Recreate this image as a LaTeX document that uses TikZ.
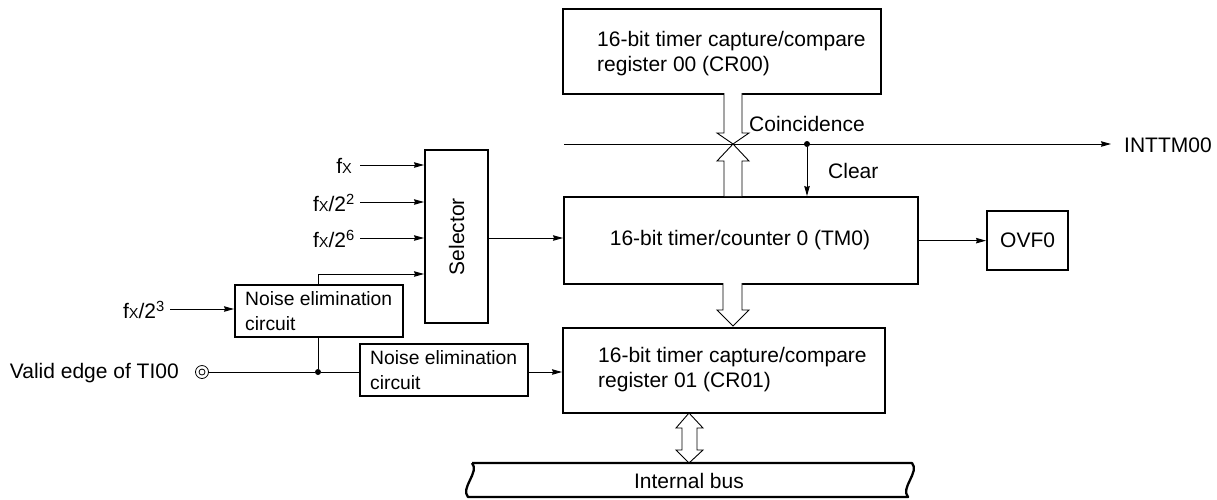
\documentclass[tikz,border=0pt]{standalone}
\usepackage{fontspec}
\setmainfont{Liberation Sans}
\usetikzlibrary{arrows.meta,calc}
\newcommand{\fX}{f{\fontsize{14.5}{14.5}\selectfont X}}
\begin{document}
\begin{tikzpicture}[x=1pt,y=-1pt,
  blk/.style={draw, line width=2.3pt, fill=white, inner sep=0pt, anchor=north west},
  txt/.style={inner sep=0pt, font=\fontsize{21}{25}\selectfont, align=left},
  ntxt/.style={inner sep=0pt, font=\fontsize{19.3}{25}\selectfont, align=left},
  con/.style={line width=0.9pt},
  arr/.style={con, -{Stealth[length=10pt,width=5.5pt,inset=1pt]}},
  barrow/.style={line width=0.9pt, fill=white},
  dot/.style={circle, fill=black, inner sep=0pt, minimum size=6pt}
]
\useasboundingbox (0,0) rectangle (1217,499);

% boxes
\node[blk, minimum width=318pt, minimum height=85pt] (cr00) at (562,8) {};
\node[txt, anchor=west] (cr00t) at (597,54) {16-bit timer capture/compare\\register 00 (CR00)};

\node[blk, minimum width=354pt, minimum height=87pt] (tm0) at (563,196) {};
\node[txt] (tm0t) at (740,240) {16-bit timer/counter 0 (TM0)};

\node[blk, minimum width=322pt, minimum height=85pt] (cr01) at (562,327) {};
\node[txt, anchor=west] (cr01t) at (598,370) {16-bit timer capture/compare\\register 01 (CR01)};

\node[blk, minimum width=81pt, minimum height=59pt] (ovf) at (986,210) {};
\node[txt] (ovft) at (ovf.center) {OVF0};

\node[blk, minimum width=63pt, minimum height=173pt] (sel) at (424,149) {};
\node[txt, rotate=90] (selt) at (sel.center) {Selector};

\node[blk, minimum width=168pt, minimum height=52pt] (ne1) at (234,284) {};
\node[ntxt, anchor=west] (ne1t) at (245,311.5) {Noise elimination\\circuit};

\node[blk, minimum width=168pt, minimum height=52pt] (ne2) at (359,343) {};
\node[ntxt, anchor=west] (ne2t) at (370,370.5) {Noise elimination\\circuit};

% input labels
\node[txt, anchor=east] (in1) at (352,166) {\fX};
\node[txt, anchor=east] (in2) at (355,203) {\fX/2\textsuperscript{2}};
\node[txt, anchor=east] (in3) at (355,239) {\fX/2\textsuperscript{6}};
\node[txt, anchor=east] (in4) at (165,310) {\fX/2\textsuperscript{3}};
\node[txt, anchor=east] (ti) at (179,373) {Valid edge of TI00};

\coordinate (s1) at (360,165);
\coordinate (s2) at (360,202);
\coordinate (s3) at (360,238);
\draw[arr] (s1) -- (s1 -| sel.west);
\draw[arr] (s2) -- (s2 -| sel.west);
\draw[arr] (s3) -- (s3 -| sel.west);
\coordinate (n4) at (170,309);
\draw[arr] (n4) -- (n4 -| ne1.west);

% noise1 -> selector
\coordinate (ne1top) at (318,284);
\coordinate (s4) at (318,274);
\draw[arr] (ne1top) -- (s4) -- (s4 -| sel.west);

% TI00 pin
\node[circle, draw, line width=0.8pt, minimum size=13pt, inner sep=0pt] (pin) at (202,372) {};
\node[circle, draw, line width=0.8pt, minimum size=6pt, inner sep=0pt] (pinin) at (202,372) {};
\node[dot] (jn) at (318,372) {};
\draw[con] (pin.east) -- (jn) -- (ne2.west |- jn);
\draw[con] (jn) -- (jn |- ne1.south);
\draw[arr] (ne2.east |- jn) -- (cr01.west |- jn);

% selector -> TM0
\draw[arr] (sel.east |- 0,238) -- (tm0.west |- 0,238);
% TM0 -> OVF0
\draw[arr] (tm0.east |- ovf.west) -- (ovf.west);

% INTTM00 line
\coordinate (hl) at (564,144);
\node[txt, anchor=west] (int) at (1124,145) {INTTM00};
\draw[arr] (hl) -- ($(int.west)+(-13,-1)$);
\node[dot] (cl) at (807,144) {};
\draw[arr] (cl) -- (cl |- tm0.north);
\node[txt, anchor=west] (clr) at (828,171) {Clear};
\node[txt, anchor=west] (coin) at (749,124) {Coincidence};

% block arrows
\draw[barrow] (724,93) -- (724,133) -- (717,133) -- (733,144) -- (749,133) -- (742,133) -- (742,93);
\draw[barrow] (724,196) -- (724,161) -- (717,161) -- (733,144) -- (749,161) -- (742,161) -- (742,196);
\draw[barrow] (723,283) -- (723,310) -- (717,310) -- (733,326) -- (749,310) -- (742,310) -- (742,283);
\draw[barrow] (682,428) -- (676,428) -- (689,413) -- (703,428) -- (697,428) -- (697,450) -- (703,450) -- (689,463) -- (676,450) -- (682,450) -- cycle;

% internal bus
\draw[line width=2.3pt, line join=round] (472,463) -- (912,463)
  .. controls (920,472) and (900,488) .. (908,497) -- (468,497)
  .. controls (460,488) and (480,472) .. (472,463);
\node[txt] (bus) at (689,481) {Internal bus};
\end{tikzpicture}
\end{document}
